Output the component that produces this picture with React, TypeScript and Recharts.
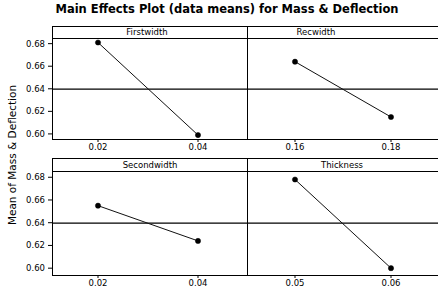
import React from 'react';
import { LineChart, Line, XAxis, YAxis, ReferenceLine } from 'recharts';

// factor levels and means
const firstLevels = ['0.02', '0.04'];
const firstMeans = [0.681, 0.599];
const recLevels = ['0.16', '0.18'];
const recMeans = [0.664, 0.615];
const secondLevels = ['0.02', '0.04'];
const secondMeans = [0.655, 0.624];
const thickLevels = ['0.05', '0.06'];
const thickMeans = [0.678, 0.6];

const yTicks = [0.6, 0.62, 0.64, 0.66, 0.68];
const grandMean = 0.6397;

const FONT = '"DejaVu Sans", Verdana, sans-serif';
const tickStyle = { fontSize: 8.5, fill: '#000', fontFamily: FONT };

interface PanelProps {
  levels: string[];
  means: number[];
  left: number;
  top: number;
  plotWidth: number;
  plotHeight: number;
  showY: boolean;
  domain: [number, number];
  pad: { left: number; right: number };
}

function Panel({ levels, means, left, top, plotWidth, plotHeight, showY, domain, pad }: PanelProps) {
  const data = levels.map((lv, i) => ({ level: lv, mean: means[i] }));
  const yw = showY ? 52 : 0;
  return (
    <div style={{ position: 'absolute', left: left - yw, top }}>
      <LineChart
        width={plotWidth + yw}
        height={plotHeight + 20}
        data={data}
        margin={{ top: 0, right: 0, bottom: 0, left: 0 }}
      >
        <XAxis
          dataKey="level"
          type="category"
          height={20}
          padding={pad}
          axisLine={false}
          tickLine={{ stroke: '#000' }}
          tickSize={3}
          tickMargin={2}
          tick={tickStyle}
          interval={0}
        />
        <YAxis
          type="number"
          domain={domain}
          ticks={yTicks}
          hide={!showY}
          width={yw}
          axisLine={false}
          tickLine={{ stroke: '#000' }}
          tickSize={4}
          tickMargin={3}
          tick={tickStyle}
          tickFormatter={(v: number) => v.toFixed(2)}
        />
        <ReferenceLine y={grandMean} stroke="#000" strokeWidth={1.2} />
        <Line
          dataKey="mean"
          stroke="#111"
          strokeWidth={1}
          dot={{ r: 2.6, fill: '#000', stroke: '#000', strokeWidth: 0.5 }}
          isAnimationActive={false}
        />
      </LineChart>
    </div>
  );
}

function Frame({ top, headTop, bottom, labels }: { top: number; headTop: number; bottom: number; labels: [string, number][] }) {
  return (
    <>
      <div style={{ position: 'absolute', left: 52, top: headTop, width: 388, height: bottom - headTop + 1, border: '1px solid #000', boxSizing: 'border-box', pointerEvents: 'none' }} />
      <div style={{ position: 'absolute', left: 52, top, width: 388, height: 1, background: '#000' }} />
      <div style={{ position: 'absolute', left: 247, top: headTop, width: 1, height: bottom - headTop, background: '#000' }} />
      {labels.map(([t, cx]) => (
        <div key={t} style={{ position: 'absolute', left: cx - 50, width: 100, top: headTop + 1, height: top - headTop - 1, lineHeight: `${top - headTop - 1}px`, textAlign: 'center', fontSize: 8.5, fontFamily: FONT }}>
          {t}
        </div>
      ))}
    </>
  );
}

export default function App() {
  return (
    <div style={{ position: 'absolute', left: 0, top: 0, width: 438, height: 293, overflow: 'hidden', background: '#fff', fontFamily: FONT }}>
      <div style={{ position: 'absolute', left: 0, width: 454, top: 2, textAlign: 'center', fontSize: 11.5, fontWeight: 'bold', fontFamily: FONT }}>
        Main Effects Plot (data means) for Mass &amp; Deflection
      </div>
      <div style={{ position: 'absolute', left: 12 - 100, top: 156 - 7, width: 200, textAlign: 'center', fontSize: 10.5, transform: 'rotate(-90deg)', fontFamily: FONT }}>
        Mean of Mass &amp; Deflection
      </div>

      <Panel levels={firstLevels} means={firstMeans} left={52} top={38} plotWidth={195} plotHeight={101} showY domain={[0.5955, 0.685]} pad={{ left: 46, right: 49 }} />
      <Panel levels={recLevels} means={recMeans} left={247} top={38} plotWidth={192} plotHeight={101} showY={false} domain={[0.5955, 0.685]} pad={{ left: 48, right: 48 }} />
      <Panel levels={secondLevels} means={secondMeans} left={52} top={171} plotWidth={195} plotHeight={104} showY domain={[0.594, 0.6855]} pad={{ left: 46, right: 49 }} />
      <Panel levels={thickLevels} means={thickMeans} left={247} top={171} plotWidth={192} plotHeight={104} showY={false} domain={[0.594, 0.6855]} pad={{ left: 48, right: 48 }} />

      <Frame headTop={26} top={38} bottom={139} labels={[['Firstwidth', 147], ['Recwidth', 316]]} />
      <Frame headTop={158} top={171} bottom={275} labels={[['Secondwidth', 150], ['Thickness', 342]]} />
    </div>
  );
}
